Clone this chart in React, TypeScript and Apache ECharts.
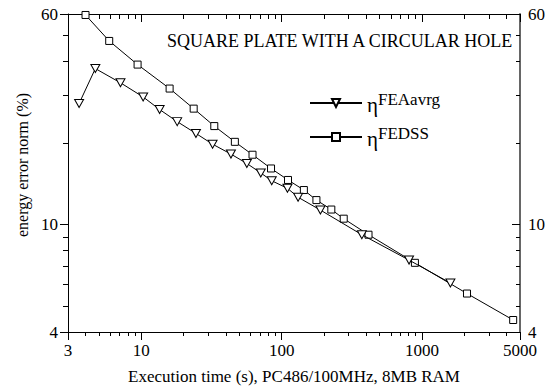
import React, { useEffect, useRef } from "react";
import * as echarts from "echarts";

const FONT = "'Liberation Serif', 'Times New Roman', serif";

// Data
const feaTime = [3.6, 4.7, 7.1, 10.3, 13.5, 18, 24.5, 32.2, 43.5, 56.5, 71, 85, 110, 131, 189, 373, 809, 1596];
const feaErr = [28.0, 37.7, 33.4, 29.6, 26.6, 24.0, 21.7, 19.8, 18.2, 16.8, 15.5, 14.5, 13.6, 12.6, 11.3, 9.16, 7.38, 6.07];
const dssTime = [4.0, 5.9, 9.4, 15.9, 23.6, 33.1, 46.4, 62, 84, 111, 144, 177, 226, 277, 416, 891, 2095, 4470];
const dssErr = [59.5, 47.7, 39, 31.8, 26.8, 23.1, 20.2, 18.1, 16.1, 14.6, 13.4, 12.3, 11.35, 10.5, 9.16, 7.21, 5.55, 4.43];

const seriesNames = ["FEAavrg", "FEDSS"];

// Axis ticks / labels
const xLabels = [3, 10, 100, 1000, 5000];
const xMajor = [3, 10, 100, 1000, 5000];
const xMinor = [4, 5, 6, 7, 8, 9, 20, 30, 40, 50, 60, 70, 80, 90, 200, 300, 400, 500, 600, 700, 800, 900, 2000, 3000, 4000];
const yLabels = [4, 10, 60];
const yMajor = [4, 10, 60];
const yMinor = [5, 6, 7, 8, 9, 20, 30, 40, 50];

const X_MIN = 3, X_MAX = 5000, Y_MIN = 4, Y_MAX = 60;

export default function App() {
  const ref = useRef<HTMLDivElement>(null);
  useEffect(() => {
    const chart = echarts.init(ref.current!, null, { renderer: "svg" });
    const fmt = (v: number) => String(Math.round(v));
    const xBase = (extra: any) => ({
      type: "log",
      logBase: 10,
      min: X_MIN,
      max: X_MAX,
      splitLine: { show: false },
      ...extra,
    });
    const yBase = (extra: any) => ({
      type: "log",
      logBase: 10,
      min: Y_MIN,
      max: Y_MAX,
      splitLine: { show: false },
      ...extra,
    });
    const labelStyle = { color: "#000", fontFamily: FONT, fontSize: 17 };
    const option: any = {
      animation: false,
      backgroundColor: "#fff",
      title: {
        text: "SQUARE PLATE WITH A CIRCULAR HOLE",
        left: 167,
        top: 32,
        padding: 0,
        textStyle: { color: "#000", fontFamily: FONT, fontSize: 18, fontWeight: "normal" },
      },
      grid: { left: 68, right: 26, top: 14, bottom: 60 },
      legend: {
        orient: "vertical",
        left: 309,
        top: 91,
        padding: 0,
        itemWidth: 52,
        itemHeight: 10,
        itemGap: 10,
        data: seriesNames,
        formatter: (name: string) => `{eta|η}{sup|${name}}`,
        textStyle: {
          color: "#000",
          fontFamily: FONT,
          fontSize: 19,
          rich: {
            eta: { fontFamily: FONT, fontSize: 21, lineHeight: 24, verticalAlign: "bottom", color: "#000" },
            sup: { fontFamily: FONT, fontSize: 17, lineHeight: 15, verticalAlign: "top", color: "#000" },
          },
        },
      },
      xAxis: [
        xBase({
          position: "bottom",
          name: "Execution time (s), PC486/100MHz, 8MB RAM",
          nameLocation: "middle",
          nameGap: 36,
          nameTextStyle: { color: "#000", fontFamily: FONT, fontSize: 17 },
          axisLine: { show: true, lineStyle: { color: "#000", width: 1 } },
          axisTick: { show: true, inside: false, length: 8, customValues: xMajor, lineStyle: { color: "#000" } },
          axisLabel: { show: true, customValues: xLabels, formatter: fmt, margin: 10, ...labelStyle },
        }),
        xBase({
          position: "bottom",
          axisLine: { show: false },
          axisTick: { show: true, inside: false, length: 4, customValues: xMinor, lineStyle: { color: "#000" } },
          axisLabel: { show: false },
        }),
        xBase({
          position: "top",
          axisLine: { show: true, lineStyle: { color: "#000", width: 1 } },
          axisTick: { show: true, inside: true, length: 8, customValues: xMajor, lineStyle: { color: "#000" } },
          axisLabel: { show: false },
        }),
        xBase({
          position: "top",
          axisLine: { show: false },
          axisTick: { show: true, inside: true, length: 5, customValues: xMinor, lineStyle: { color: "#000" } },
          axisLabel: { show: false },
        }),
      ],
      yAxis: [
        yBase({
          position: "left",
          name: "energy error norm (%)",
          nameLocation: "middle",
          nameGap: 32,
          nameTextStyle: { color: "#000", fontFamily: FONT, fontSize: 16, padding: [0, 0, 0, 16] },
          axisLine: { show: true, lineStyle: { color: "#000", width: 1 } },
          axisTick: { show: true, inside: false, length: 8, customValues: yMajor, lineStyle: { color: "#000" } },
          axisLabel: { show: true, customValues: yLabels, formatter: fmt, margin: 10, ...labelStyle },
        }),
        yBase({
          position: "left",
          axisLine: { show: false },
          axisTick: { show: true, inside: false, length: 5, customValues: yMinor, lineStyle: { color: "#000" } },
          axisLabel: { show: false },
        }),
        yBase({
          position: "right",
          axisLine: { show: true, lineStyle: { color: "#666", width: 2 } },
          axisTick: { show: true, inside: true, length: 8, customValues: yMajor, lineStyle: { color: "#000" } },
          axisLabel: { show: true, customValues: yLabels, formatter: fmt, margin: 8, ...labelStyle },
        }),
        yBase({
          position: "right",
          axisLine: { show: false },
          axisTick: { show: true, inside: true, length: 4, customValues: yMinor, lineStyle: { color: "#000" } },
          axisLabel: { show: false },
        }),
      ],
      series: [
        {
          name: seriesNames[0],
          type: "line",
          xAxisIndex: 0,
          yAxisIndex: 0,
          data: feaTime.map((t, i) => [t, feaErr[i]]),
          symbol: "triangle",
          symbolRotate: 180,
          symbolSize: [9, 8],
          lineStyle: { color: "#000", width: 1 },
          itemStyle: { color: "#fff", borderColor: "#000", borderWidth: 1 },
          z: 3,
        },
        {
          name: seriesNames[1],
          type: "line",
          xAxisIndex: 0,
          yAxisIndex: 0,
          data: dssTime.map((t, i) => [t, dssErr[i]]),
          symbol: "rect",
          symbolSize: 7,
          lineStyle: { color: "#000", width: 1 },
          itemStyle: { color: "#fff", borderColor: "#000", borderWidth: 1 },
          z: 2,
        },
      ],
    };
    chart.setOption(option);
    return () => chart.dispose();
  }, []);
  return <div ref={ref} style={{ position: "fixed", left: 0, top: 0, width: 548, height: 392 }} />;
}
